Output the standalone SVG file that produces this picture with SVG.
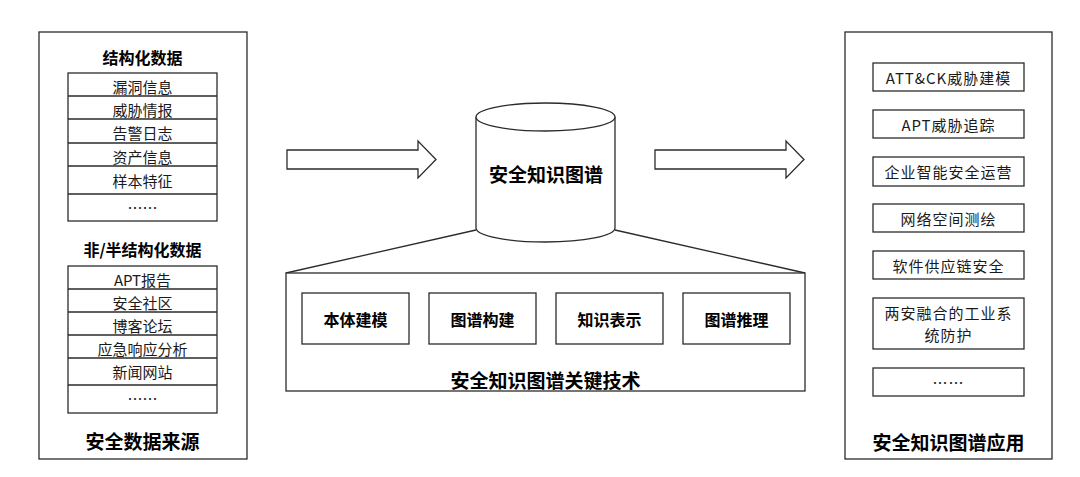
<svg xmlns="http://www.w3.org/2000/svg" width="1080" height="477" viewBox="0 0 1080 477">
<style>
.box{fill:#fff;stroke:#2b2b2b;stroke-width:1.3}
.ln{fill:none;stroke:#2b2b2b;stroke-width:1.3}
.t{font-family:"Noto Sans CJK SC","Liberation Sans",sans-serif;font-size:15px;fill:#1a1a1a;text-anchor:middle;dominant-baseline:central}
.tr{letter-spacing:1px}
.h1{font-family:"Noto Sans CJK SC","Liberation Sans",sans-serif;font-size:16px;font-weight:bold;fill:#000;text-anchor:middle;dominant-baseline:central}
.h2{font-family:"Noto Sans CJK SC","Liberation Sans",sans-serif;font-size:19px;font-weight:bold;fill:#000;text-anchor:middle;dominant-baseline:central}
</style>
<rect width="1080" height="477" fill="#fff"/>

<g id="sources">
<rect class="box" x="39" y="32" width="208" height="427"/>
<text class="h1" x="142.5" y="57">结构化数据</text>
<rect class="box" x="68" y="73" width="149" height="148"/>
<path class="ln" d="M68 96H217M68 119H217M68 143H217M68 166H217M68 194H217"/>
<text class="t" x="142.5" y="86">漏洞信息</text>
<text class="t" x="142.5" y="109">威胁情报</text>
<text class="t" x="142.5" y="132">告警日志</text>
<text class="t" x="142.5" y="156">资产信息</text>
<text class="t" x="142.5" y="180">样本特征</text>
<text class="t" x="142.5" y="207">……</text>
<text class="h1" x="142.5" y="249">非/半结构化数据</text>
<rect class="box" x="68" y="266" width="149" height="147"/>
<path class="ln" d="M68 289H217M68 312H217M68 335H217M68 358H217M68 385H217"/>
<text class="t" x="142.5" y="279">APT报告</text>
<text class="t" x="142.5" y="302">安全社区</text>
<text class="t" x="142.5" y="325">博客论坛</text>
<text class="t" x="142.5" y="348">应急响应分析</text>
<text class="t" x="142.5" y="371">新闻网站</text>
<text class="t" x="142.5" y="398">……</text>
<text class="h2" x="142.5" y="440">安全数据来源</text>
</g>

<g id="connectors">
<path class="box" d="M287 150H418V141L436 159.5L418 178V169H287Z"/>
<path class="box" d="M655 150H786V141L804 159.5L786 178V169H655Z"/>
<path class="ln" d="M476 230L286 273M615 230L805 273"/>
</g>

<g id="kg">
<path class="box" d="M476 117V228A69.5 14 0 0 0 615 228V117"/>
<ellipse class="box" cx="545.5" cy="117" rx="69.5" ry="14"/>
<text class="h2" x="546" y="173">安全知识图谱</text>
</g>

<g id="tech">
<rect class="box" x="286" y="273" width="519" height="118"/>
<rect class="box" x="302" y="293" width="107" height="51"/>
<text class="h1" x="355.5" y="318.5">本体建模</text>
<rect class="box" x="429" y="293" width="107" height="51"/>
<text class="h1" x="482.5" y="318.5">图谱构建</text>
<rect class="box" x="556" y="293" width="107" height="51"/>
<text class="h1" x="609.5" y="318.5">知识表示</text>
<rect class="box" x="683" y="293" width="107" height="51"/>
<text class="h1" x="736.5" y="318.5">图谱推理</text>
<text class="h2" x="545.5" y="379">安全知识图谱关键技术</text>
</g>

<g id="apps">
<rect class="box" x="845" y="32" width="207" height="427"/>
<rect class="box" x="873" y="63" width="151" height="28"/>
<text class="t tr" x="948.5" y="77">ATT&amp;CK威胁建模</text>
<rect class="box" x="873" y="110" width="151" height="28"/>
<text class="t tr" x="948.5" y="124">APT威胁追踪</text>
<rect class="box" x="873" y="157" width="151" height="29"/>
<text class="t tr" x="948.5" y="171.5">企业智能安全运营</text>
<rect class="box" x="873" y="204" width="151" height="28"/>
<text class="t tr" x="948.5" y="218">网络空间测绘</text>
<rect class="box" x="873" y="251" width="151" height="28"/>
<text class="t tr" x="948.5" y="265">软件供应链安全</text>
<rect class="box" x="873" y="298" width="151" height="51"/>
<text class="t tr" x="948.5" y="312">两安融合的工业系</text>
<text class="t tr" x="948.5" y="334">统防护</text>
<rect class="box" x="873" y="368" width="151" height="28"/>
<text class="t tr" x="948.5" y="382">……</text>
<text class="h2" x="948.5" y="441">安全知识图谱应用</text>
</g>
</svg>
